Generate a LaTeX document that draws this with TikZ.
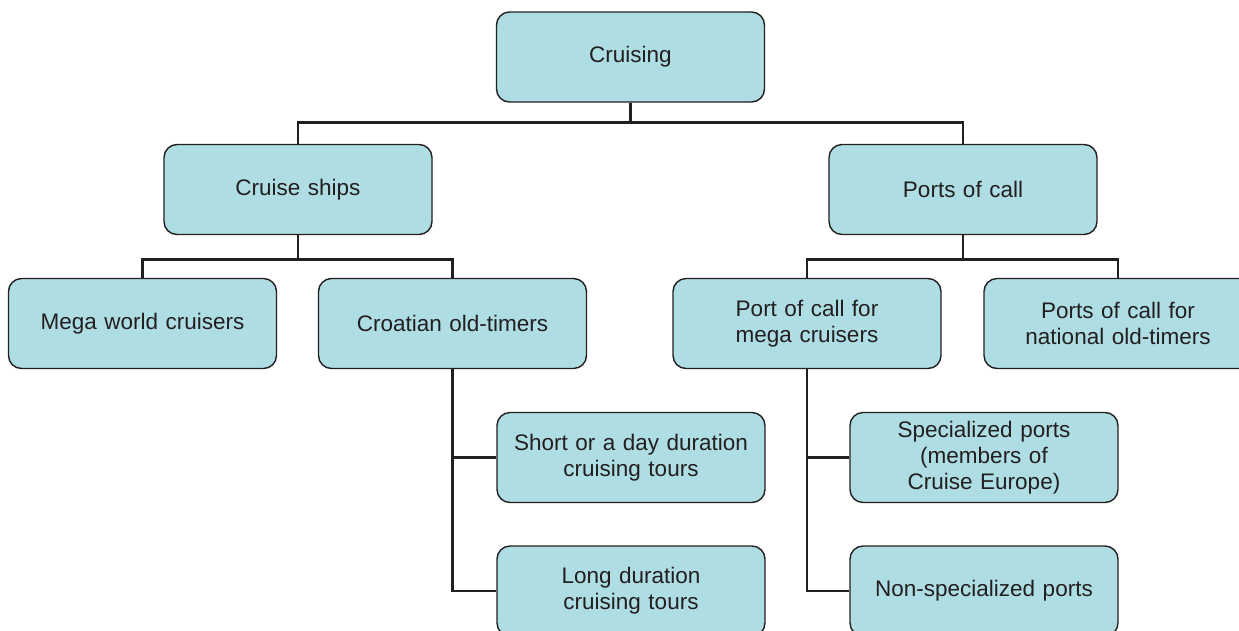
\documentclass[tikz,border=0pt]{standalone}
\usepackage{fontspec}
\setmainfont{Liberation Sans}
\definecolor{boxfill}{RGB}{174,221,227}
\definecolor{boxline}{RGB}{35,31,32}
\begin{document}
\begin{tikzpicture}[x=1pt,y=-1pt,
  cbox/.style={draw=boxline,fill=boxfill,line width=1.4pt,rounded corners=13pt,
    minimum width=268pt,minimum height=90pt,inner sep=0pt,text width=260pt,align=center,
    font=\fontsize{22.5}{26}\selectfont,text=boxline},
  conn/.style={draw=boxline,line width=2.8pt}]
\useasboundingbox (0,0) rectangle (1239,630);
\node[cbox] (cruising) at (630.5,57) {Cruising};
\node[cbox] (ships) at (298,189.5) {Cruise ships};
\node[cbox] (ports) at (963,189.5) {Ports of call};
\node[cbox] (mega) at (142.5,323.5) {Mega world cruisers};
\node[cbox] (croat) at (452.5,323.5) {Croatian old-timers};
\node[cbox] (pmega) at (807,323.5) {Port of call for\\mega cruisers};
\node[cbox] (pnat) at (1118,323.5) {Ports of call for\\national old-timers};
\node[cbox] (short) at (631,457.5) {Short or a day duration\\cruising tours};
\node[cbox] (long) at (631,591) {Long duration\\cruising tours};
\node[cbox] (spec) at (984,457.5) {Specialized ports\\(members of\\Cruise Europe)};
\node[cbox] (nonspec) at (984,591) {Non-specialized ports};
\path[conn] (cruising.south) -- ++(0,20) -| (ships.north);
\path[conn] (cruising.south) -- ++(0,20) -| (ports.north);
\path[conn] (ships.south) -- ++(0,24) -| (mega.north);
\path[conn] (ships.south) -- ++(0,24) -| (croat.north);
\path[conn] (ports.south) -- ++(0,24) -| (pmega.north);
\path[conn] (ports.south) -- ++(0,24) -| (pnat.north);
\path[conn] (croat.south) |- (long.west);
\path[conn] (croat.south |- short.west) -- (short.west);
\path[conn] (pmega.south) |- (nonspec.west);
\path[conn] (pmega.south |- spec.west) -- (spec.west);
\end{tikzpicture}
\end{document}
